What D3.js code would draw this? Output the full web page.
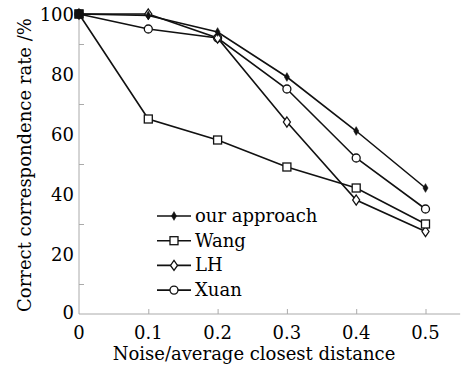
<!DOCTYPE html>
<html>
<head>
<meta charset="utf-8">
<script src="https://cdn.jsdelivr.net/npm/d3@7"></script>
<style>
  body { margin: 0; background: #fff; }
  svg { display: block; }
  text { font-family: "DejaVu Serif", serif; fill: #000; }
</style>
</head>
<body>
<div id="chart"></div>
<script>
// ---- data ----
const noise = [0, 0.1, 0.2, 0.3, 0.4, 0.5];
const ourApproach = [100, 99.5, 94, 79, 61, 42];
const wang = [100, 65, 58, 49, 42, 30];
const lh = [100, 100, 92, 64, 38, 27.5];
const xuan = [100, 95, 92, 75, 52, 35];
const seriesNames = ["our approach", "Wang", "LH", "Xuan"];
const xTicks = [0, 0.1, 0.2, 0.3, 0.4, 0.5];
const yTicks = [0, 20, 40, 60, 80, 100];

const W = 472, H = 369;
const margin = { top: 14, right: 12, bottom: 55, left: 79 };
const innerW = W - margin.left - margin.right;
const innerH = H - margin.top - margin.bottom;

const svg = d3.select("#chart").append("svg")
    .attr("width", W).attr("height", H);
const g = svg.append("g")
    .attr("transform", `translate(${margin.left},${margin.top})`);

// 0.5 sits at ~346px from origin, axis runs a little past it
const x = d3.scaleLinear().domain([0, 0.55]).range([0, 0.55 / 0.5 * 346.5]);
const y = d3.scaleLinear().domain([0, 100]).range([innerH, 0]);

const axisColor = "#aaa";

// axes: thin gray lines with short inward ticks
const xAxis = g.append("g").attr("transform", `translate(0,${innerH})`)
    .call(d3.axisTop(x).tickValues(xTicks.slice(1)).tickSize(5).tickFormat(""));
const yAxis = g.append("g")
    .call(d3.axisRight(y).tickValues(d3.range(10, 100, 20)).tickSize(5).tickFormat(""));
[xAxis, yAxis].forEach(a => {
    a.select(".domain").attr("stroke", axisColor);
    a.selectAll(".tick line").attr("stroke", axisColor);
});
// plain lines, no end caps
xAxis.select(".domain").attr("d", `M0,0H${x(0.55)}`);
yAxis.select(".domain").attr("d", `M0,0V${innerH}`);

// tick labels
g.append("g").selectAll("text").data(xTicks).join("text")
    .attr("x", d => x(d)).attr("y", innerH + 25)
    .attr("text-anchor", "middle").style("font-size", "18px")
    .text(d => d === 0 ? "0" : d3.format(".1f")(d));
g.append("g").selectAll("text").data(yTicks).join("text")
    .attr("x", -5).attr("y", d => y(d) + (d === 0 ? 5 : 6.5))
    .attr("text-anchor", "end").style("font-size", "18px")
    .text(d => d);

// axis titles
svg.append("text")
    .attr("x", margin.left + 175).attr("y", H - 9)
    .attr("text-anchor", "middle").style("font-size", "18px")
    .text("Noise/average closest distance");
svg.append("text")
    .attr("transform", "translate(31,165) rotate(-90)")
    .attr("text-anchor", "middle").style("font-size", "18px")
    .text("Correct correspondence rate /%");

// markers
const markers = {
    "our approach": sel => sel.append("path")
        .attr("d", d3.symbol(d3.symbolDiamond, 22)())
        .attr("fill", "#111").attr("stroke", "#111").attr("stroke-width", 0.6),
    "Wang": sel => sel.append("rect")
        .attr("x", -4).attr("y", -4).attr("width", 8).attr("height", 8)
        .attr("fill", "#fff").attr("stroke", "#111").attr("stroke-width", 1.3),
    "LH": sel => sel.append("path")
        .attr("d", "M0,-5L3.5,0L0,5L-3.5,0Z")
        .attr("fill", "#fff").attr("stroke", "#111").attr("stroke-width", 1.3),
    "Xuan": sel => sel.append("circle").attr("r", 4)
        .attr("fill", "#fff").attr("stroke", "#111").attr("stroke-width", 1.3)
};

const series = [
    { name: "our approach", values: ourApproach },
    { name: "Wang", values: wang },
    { name: "LH", values: lh },
    { name: "Xuan", values: xuan }
];

const line = d3.line().x((d, i) => x(noise[i])).y(d => y(d));

series.forEach(s => {
    g.append("path").datum(s.values)
        .attr("d", line).attr("fill", "none")
        .attr("stroke", "#111").attr("stroke-width", 1.6);
});
// markers after all lines so they sit on top
series.slice().reverse().forEach(s => {
    s.values.forEach((v, i) => {
        const m = g.append("g").attr("transform", `translate(${x(noise[i])},${y(v)})`);
        markers[s.name](m);
    });
});
// stacked markers at the origin read as a filled black square
g.append("rect")
    .attr("x", x(noise[0]) - 4.5).attr("y", y(ourApproach[0]) - 4.5)
    .attr("width", 9).attr("height", 9).attr("fill", "#111");

// legend
const legend = svg.append("g").attr("transform", "translate(157,216)");
seriesNames.forEach((name, i) => {
    const row = legend.append("g").attr("transform", `translate(0,${i * 24.7})`);
    row.append("line").attr("x1", 0).attr("x2", 34)
        .attr("stroke", "#111").attr("stroke-width", 1.6);
    markers[name](row.append("g").attr("transform", "translate(17,0)"));
    row.append("text").attr("x", 38).attr("y", 6)
        .style("font-size", "18px").text(name);
});
</script>
</body>
</html>
